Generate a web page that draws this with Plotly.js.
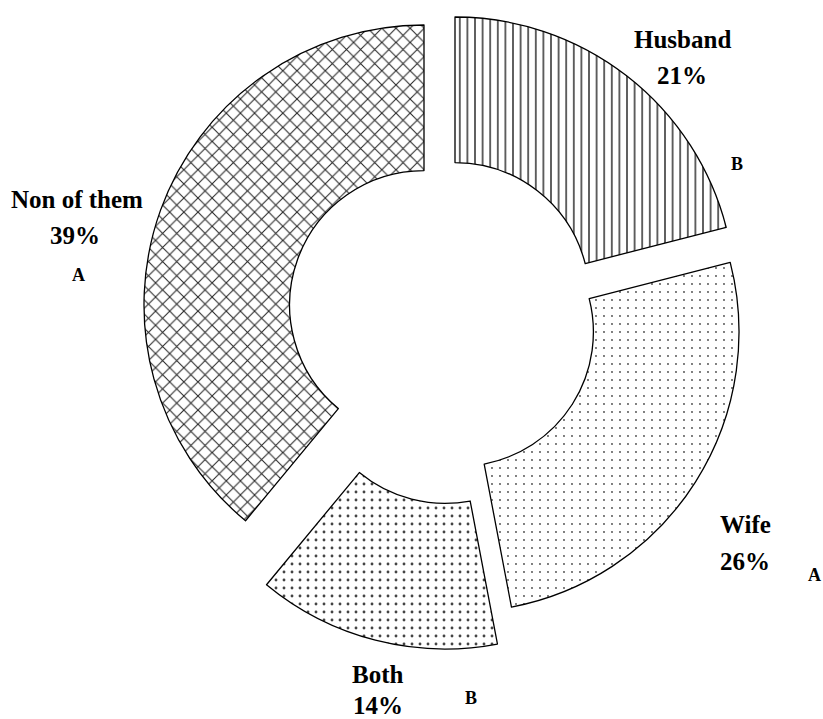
<!DOCTYPE html>
<html><head><meta charset="utf-8">
<script src="https://cdn.plot.ly/plotly-3.0.1.min.js"></script>
<style>html,body{margin:0;padding:0;background:#fff}</style>
</head><body>
<div id="chart" style="width:823px;height:719px"></div>
<script>
// ---- data ----
const categories = ['Husband', 'Wife', 'Both', 'Non of them'];
const percents = [21, 26, 14, 39];
const letters = ['B', 'A', 'B', 'A'];

// ---- styles / placement (pixels from top-left) ----
const W = 823, H = 719;
const style = {
  // centre of each exploded slice
  center: [[455, 297], [459, 332], [445, 369], [424, 305]],
  radius: 280,
  hole: 0.48,
  shape: ['|', '.', '.', 'x'],
  fg: ['#000000', '#444444', '#444444', '#262626'],
  size: [7.6, 8, 8, 10],
  solidity: [0.16, 0.04, 0.10, 0.2],
  namePos: [[682, 40], [745, 524], [378, 674], [77, 199]],
  pctPos: [[682, 76], [745, 561], [378, 705], [75, 235]],
  letterPos: [[737, 164], [814, 575], [471, 698], [78, 275]]
};

const traces = categories.map((c, k) => {
  const cx = style.center[k][0], cy = style.center[k][1], R = style.radius;
  const show = categories.map((_, i) => i === k);
  return {
    type: 'pie',
    name: c,
    labels: categories,
    values: percents,
    sort: false,
    direction: 'clockwise',
    rotation: 0,
    hole: style.hole,
    textinfo: 'none',
    hoverinfo: 'label+percent',
    showlegend: false,
    domain: {
      x: [(cx - R) / W, (cx + R) / W],
      y: [(H - cy - R) / H, (H - cy + R) / H]
    },
    marker: {
      colors: show.map(s => s ? '#ffffff' : 'rgba(0,0,0,0)'),
      line: {color: '#000000', width: show.map(s => s ? 1.3 : 0)},
      pattern: {
        shape: show.map((s, i) => s ? style.shape[i] : ''),
        fgcolor: style.fg,
        bgcolor: show.map(s => s ? '#ffffff' : 'rgba(0,0,0,0)'),
        size: style.size,
        solidity: style.solidity,
        fillmode: 'replace'
      }
    }
  };
});

const font = {family: '"Liberation Serif", "Times New Roman", serif', color: '#000000', weight: 'bold'};
const annotations = [];
categories.forEach((c, i) => {
  const mk = (txt, p, sz) => ({
    text: '<b>' + txt + '</b>', xref: 'paper', yref: 'paper',
    x: p[0] / W, y: 1 - p[1] / H, xanchor: 'center', yanchor: 'middle',
    showarrow: false, font: Object.assign({}, font, {size: sz})
  });
  annotations.push(mk(c, style.namePos[i], 25));
  annotations.push(mk(percents[i] + '%', style.pctPos[i], 25));
  annotations.push(mk(letters[i], style.letterPos[i], 18));
});

const layout = {
  width: W, height: H,
  margin: {l: 0, r: 0, t: 0, b: 0, pad: 0},
  paper_bgcolor: '#ffffff',
  plot_bgcolor: '#ffffff',
  showlegend: false,
  annotations: annotations
};

Plotly.newPlot('chart', traces, layout, {displayModeBar: false, staticPlot: true});
</script>
</body></html>
